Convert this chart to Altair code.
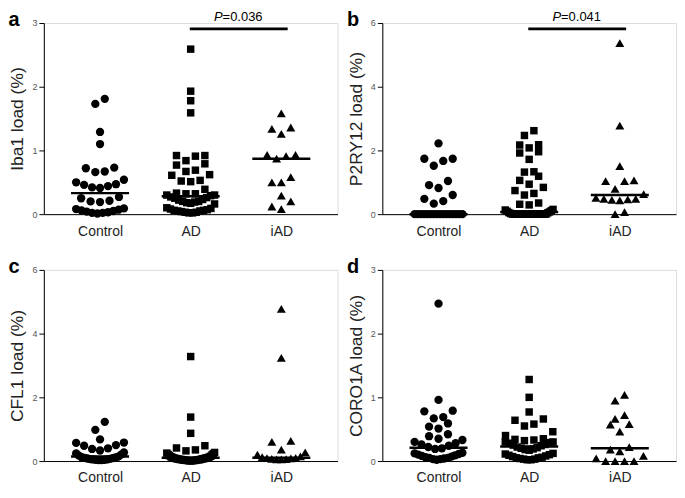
import altair as alt
import pandas as pd

FONT = "Liberation Sans"

groups = ["Control", "AD", "iAD"]
shapes = ["circle", "square", "triangle-up"]
sizes = [70, 56, 81]

# ---- panel a: Iba1 load (%) ----
iba1_control = [1.81, 1.73, 1.29, 1.10, 0.73, 0.72, 0.67, 0.66, 0.54, 0.50, 0.47, 0.46, 0.44, 0.42, 0.41,
                0.27, 0.25, 0.21, 0.20, 0.19, 0.09, 0.08, 0.07, 0.06, 0.05, 0.04, 0.03, 0.02, 0.02, 0.01]
iba1_ad = [2.59, 1.93, 1.78, 1.59, 0.92, 0.91, 0.92, 0.84, 0.79, 0.77, 0.69, 0.67, 0.62, 0.61, 0.53, 0.52,
           0.51, 0.39, 0.33, 0.32, 0.32, 0.30, 0.30, 0.29,
           0.27, 0.26, 0.25, 0.23, 0.22, 0.20, 0.20, 0.19, 0.18, 0.17, 0.16,
           0.10, 0.09, 0.08, 0.07, 0.06, 0.06, 0.05, 0.05, 0.04, 0.03, 0.03, 0.02, 0.02]
iba1_iad = [1.58, 1.36, 1.34, 1.26, 0.93, 0.91, 0.87, 0.93, 0.58, 0.50, 0.50, 0.29, 0.20, 0.12, 0.08]
iba1_median = [0.33, 0.28, 0.87]

# ---- panel b: P2RY12 load (%) ----
p2ry12_control = [2.22, 1.74, 1.74, 1.67, 1.52, 1.04, 0.91, 0.82, 0.60, 0.48, 0.41, 0.33] + [0.0] * 16
p2ry12_ad = [2.62, 2.47, 2.18, 2.17, 2.08, 1.96, 1.92, 1.72, 1.33, 1.32, 1.19, 1.06, 0.94, 0.84, 0.74,
             0.65, 0.60, 0.35, 0.31, 0.29,
             0.15, 0.13, 0.11, 0.09, 0.07, 0.05, 0.04, 0.02] + [0.0] * 20
p2ry12_iad = [5.37, 2.78, 1.51, 1.04, 1.04, 1.06, 0.79, 0.63, 0.51, 0.48, 0.48, 0.46, 0.45, 0.43, 0.06, 0.0]
p2ry12_median = [0.0, 0.07, 0.60]

# ---- panel c: CFL1 load (%) ----
cfl1_control = [1.23, 0.98, 0.68, 0.58, 0.57, 0.50, 0.48, 0.40, 0.38, 0.33,
                0.27, 0.24, 0.20, 0.17, 0.14, 0.12, 0.11, 0.10, 0.09, 0.08, 0.07, 0.06, 0.05, 0.05,
                0.04, 0.04, 0.03, 0.03]
cfl1_ad = [3.28, 1.38, 0.87, 0.48, 0.41, 0.35, 0.32,
           0.27, 0.25, 0.23, 0.21, 0.19, 0.17, 0.15, 0.14, 0.13, 0.12, 0.11, 0.10, 0.10, 0.09, 0.09,
           0.08, 0.08, 0.07, 0.07, 0.06, 0.06, 0.05, 0.05, 0.05, 0.04, 0.04, 0.04, 0.03, 0.03, 0.03,
           0.02, 0.02, 0.02, 0.02, 0.01, 0.01, 0.01, 0.01]
cfl1_iad = [4.78, 3.24, 0.63, 0.60, 0.36, 0.27, 0.20, 0.15, 0.12, 0.10, 0.09, 0.08, 0.07, 0.06, 0.05, 0.05]
cfl1_median = [0.14, 0.10, 0.10]

# ---- panel d: CORO1A load (%) ----
coro1a_control = [2.47, 0.96, 0.79, 0.78, 0.69, 0.67, 0.59, 0.54, 0.51, 0.42, 0.39, 0.35, 0.33, 0.30, 0.28,
                  0.26, 0.24, 0.22, 0.20, 0.19,
                  0.13, 0.12, 0.11, 0.10, 0.09, 0.08, 0.07, 0.06, 0.05, 0.05, 0.04, 0.03, 0.03, 0.02]
coro1a_ad = [1.28, 1.00, 0.77, 0.66, 0.64, 0.58, 0.55, 0.46, 0.40, 0.35, 0.34, 0.33, 0.32, 0.30, 0.30, 0.29, 0.28,
             0.26, 0.25, 0.24, 0.22, 0.21, 0.20, 0.19, 0.18, 0.17,
             0.12, 0.11, 0.10, 0.09, 0.08, 0.07, 0.06, 0.05, 0.05, 0.04, 0.03, 0.03, 0.02, 0.02]
coro1a_iad = [1.04, 0.95, 0.72, 0.66, 0.58, 0.57, 0.46, 0.22, 0.18, 0.15, 0.08, 0.04, 0.0, 0.0, 0.0, 0.0]
coro1a_median = [0.21, 0.23, 0.20]

W, H = 295, 192
XPAD = 0.62
XDOM = [-XPAD, 2 + XPAD]
STEP = W / (2 + 2 * XPAD)
HALF_MED = 0.32


def swarm(values, px_per_unit, bin_px=9.0, dx=9.5, span=48.0):
    """Prism-like column scatter: points within one symbol height share a row,
    lowest in the middle, spread sideways and squeezed if the row is too wide."""
    order = sorted(range(len(values)), key=lambda i: values[i])
    offsets = [0.0] * len(values)
    binh = bin_px / px_per_unit
    bins, cur = [], []
    for i in order:
        if cur and values[i] - values[cur[0]] > binh:
            bins.append(cur)
            cur = []
        cur.append(i)
    if cur:
        bins.append(cur)
    for b in bins:
        n = len(b)
        sp = dx if n == 1 else min(dx, span / (n - 1))
        for k, i in enumerate(b):
            if n % 2 == 1:
                slot = 0 if k == 0 else ((k + 1) // 2) * (-1 if k % 2 == 1 else 1)
            else:
                slot = (k // 2 + 0.5) * (-1 if k % 2 == 0 else 1)
            offsets[i] = slot * sp / STEP
    return offsets


def xenc(field):
    return alt.X(field, type="quantitative",
                 scale=alt.Scale(domain=XDOM, nice=False, zero=False),
                 axis=alt.Axis(values=[0, 1, 2], title=None, ticks=False, tickSize=0, grid=False,
                               labelExpr="['Control','AD','iAD'][datum.value]",
                               labelFontSize=14, labelPadding=10, labelColor="#222",
                               labelFont=FONT, domainColor="black", domainWidth=1))


def yenc(field, ymax, ticks, title):
    return alt.Y(field, type="quantitative",
                 scale=alt.Scale(domain=[0, ymax], nice=False, zero=True),
                 axis=alt.Axis(values=ticks, title=title, grid=False, tickSize=5, tickColor="black",
                               labelFontSize=9, labelColor="#555", labelPadding=2, labelFont=FONT,
                               titleFontSize=17.5, titleFontWeight="normal", titleColor="#222",
                               titleFont=FONT, titlePadding=5, domainColor="black", domainWidth=1))


def panel(letter, ytitle, ymax, yticks, series, medians, pval=None):
    ppu = H / ymax
    layers = []
    for gi, vals in enumerate(series):
        offs = swarm(vals, ppu)
        df = pd.DataFrame({"x": [gi + o for o in offs], "v": vals})
        layers.append(
            alt.Chart(df).mark_point(shape=shapes[gi], size=sizes[gi], filled=True, opacity=1,
                                     color="black", strokeWidth=0, clip=False)
            .encode(x=xenc("x"), y=yenc("v", ymax, yticks, ytitle))
        )
    med = pd.DataFrame({"x1": [i - HALF_MED for i in range(3)],
                        "x2": [i + HALF_MED for i in range(3)],
                        "m": medians})
    layers.append(
        alt.Chart(med).mark_rule(color="black", strokeWidth=2.5)
        .encode(x=xenc("x1"), x2="x2:Q", y=yenc("m", ymax, yticks, ytitle))
    )
    lab = pd.DataFrame({"t": [letter]})
    layers.append(
        alt.Chart(lab).mark_text(align="left", baseline="alphabetic", fontSize=20, fontWeight="bold",
                                 font=FONT, color="black")
        .encode(text="t:N", x=alt.value(-35.5), y=alt.value(3))
    )
    if pval is not None:
        bar = pd.DataFrame({"x1": [0.99], "x2": [2.07]})
        layers.append(
            alt.Chart(bar).mark_rule(color="black", strokeWidth=2.8)
            .encode(x=xenc("x1"), x2="x2:Q", y=alt.value(6))
        )
        pt = pd.DataFrame({"xp": [1.352], "a": ["P"], "b": ["=" + pval]})
        layers.append(
            alt.Chart(pt).mark_text(align="right", baseline="alphabetic", fontSize=13, fontStyle="italic",
                                    font=FONT, color="black")
            .encode(x=xenc("xp"), y=alt.value(-2), text="a:N")
        )
        layers.append(
            alt.Chart(pt).mark_text(align="left", baseline="alphabetic", fontSize=13,
                                    font=FONT, color="black")
            .encode(x=xenc("xp"), y=alt.value(-2), text="b:N")
        )
    return alt.layer(*layers).properties(width=W, height=H)


pa = panel("a", "Iba1 load (%)", 3, [0, 1, 2, 3], [iba1_control, iba1_ad, iba1_iad], iba1_median, "0.036")
pb = panel("b", "P2RY12 load (%)", 6, [0, 2, 4, 6], [p2ry12_control, p2ry12_ad, p2ry12_iad], p2ry12_median, "0.041")
pc = panel("c", "CFL1 load (%)", 6, [0, 2, 4, 6], [cfl1_control, cfl1_ad, cfl1_iad], cfl1_median)
pd_ = panel("d", "CORO1A load (%)", 3, [0, 1, 2, 3], [coro1a_control, coro1a_ad, coro1a_iad], coro1a_median)

chart = alt.vconcat(
    alt.hconcat(pa, pb, spacing=8),
    alt.hconcat(pc, pd_, spacing=8),
    spacing=17,
).configure_view(stroke=None).configure(background="white", padding=0)

chart.save("out.html", embed_options={"renderer": "svg", "actions": False})
